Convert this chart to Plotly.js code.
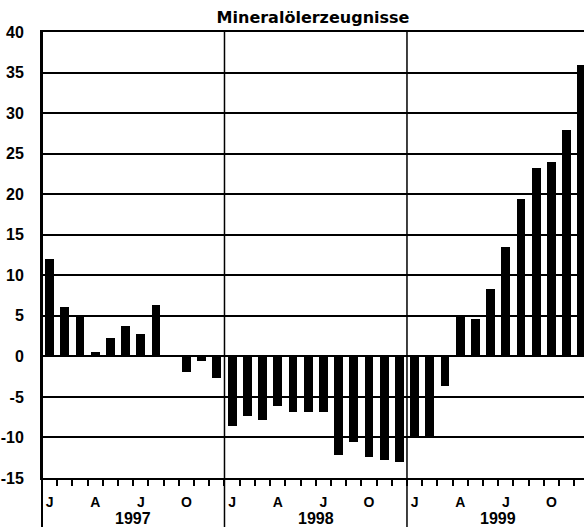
<!DOCTYPE html>
<html><head><meta charset="utf-8">
<script src="https://cdn.plot.ly/plotly-3.0.1.min.js"></script>
<style>html,body{margin:0;padding:0;background:#fff;}#chart{width:584px;height:527px;}</style>
</head><body><div id="chart"></div>
<script>
const titleText = 'Mineralölerzeugnisse';
const values1997 = [12.0, 6.1, 5.0, 0.6, 2.3, 3.8, 2.8, 6.3, 0.0, -1.9, -0.6, -2.7];
const values1998 = [-8.6, -7.3, -7.8, -6.1, -6.9, -6.9, -6.9, -12.2, -10.5, -12.4, -12.8, -13.0];
const values1999 = [-10.0, -10.0, -3.6, 4.9, 4.6, 8.3, 13.5, 19.4, 23.2, 24.0, 27.9, 35.9];
const monthLabels = ['J', '', '', 'A', '', '', 'J', '', '', 'O', '', ''];
const yearLabels = ['1997', '1998', '1999'];
const yTicks = [-15, -10, -5, 0, 5, 10, 15, 20, 25, 30, 35, 40];

const values = values1997.concat(values1998, values1999);
const idx = values.map((v, i) => i);
const labelVals = [], labelText = [];
yearLabels.forEach((yr, k) => monthLabels.forEach((m, j) => {
  if (m) { labelVals.push(k * 12 + j); labelText.push(m); }
}));
const boundaries = idx.slice(1).map(i => i - 0.5);

const fam = 'Liberation Sans, Arial, sans-serif';
const shapes = [
  {type: 'line', xref: 'paper', yref: 'paper', x0: 0, x1: 0, y0: -0.12, y1: 1, line: {color: '#000', width: 2}, layer: 'above'}
];
yearLabels.slice(1).forEach((yr, k) => {
  const b = (k + 1) * 12 - 0.5;
  shapes.push({type: 'line', xref: 'x', yref: 'paper', x0: b, x1: b, y0: -0.12, y1: 1, line: {color: '#000', width: 1.5}, layer: 'below'});
});
const annotations = yearLabels.map((yr, k) => ({
  text: yr, xref: 'x', yref: 'paper', x: k * 12 + 5.5, y: -0.091,
  xanchor: 'center', yanchor: 'middle', showarrow: false,
  font: {family: fam, size: 16, color: '#000', weight: 'bold'}
}));

Plotly.newPlot('chart', [{
  type: 'bar', x: idx, y: values, width: 0.58,
  marker: {color: '#000', line: {width: 0}}, hoverinfo: 'skip'
}], {
  width: 584, height: 527,
  margin: {l: 42, r: 0, t: 32, b: 49},
  paper_bgcolor: '#fff', plot_bgcolor: '#fff',
  showlegend: false,
  title: {text: titleText, x: 0.5, xref: 'paper', y: 1 - 17 / 527, yref: 'container',
    xanchor: 'center', yanchor: 'middle', font: {family: 'DejaVu Sans, sans-serif', size: 16, color: '#000', weight: 'bold'}},
  xaxis: {
    range: [-0.5, 35.14], showgrid: false, zeroline: false,
    showline: true, mirror: true, linecolor: '#000', linewidth: 2,
    tickmode: 'array', tickvals: labelVals, ticktext: labelText, ticks: '',
    ticklabelstandoff: 10,
    tickfont: {family: fam, size: 14, color: '#000', weight: 'bold'},
    minor: {tickmode: 'array', tickvals: boundaries, ticks: 'outside', ticklen: 6, tickwidth: 2, tickcolor: '#000', showgrid: false},
    fixedrange: true
  },
  yaxis: {
    range: [-15, 40], tickmode: 'array', tickvals: yTicks, ticktext: yTicks.map(String),
    showgrid: true, gridcolor: '#000', gridwidth: 2,
    zeroline: true, zerolinecolor: '#000', zerolinewidth: 2,
    showline: true, linecolor: '#000', linewidth: 2,
    ticks: '', ticklabelstandoff: 13,
    tickfont: {family: fam, size: 16, color: '#000', weight: 'bold'},
    fixedrange: true
  },
  shapes: shapes,
  annotations: annotations,
  bargap: 0
}, {displayModeBar: false, staticPlot: true});
</script>
</body></html>
